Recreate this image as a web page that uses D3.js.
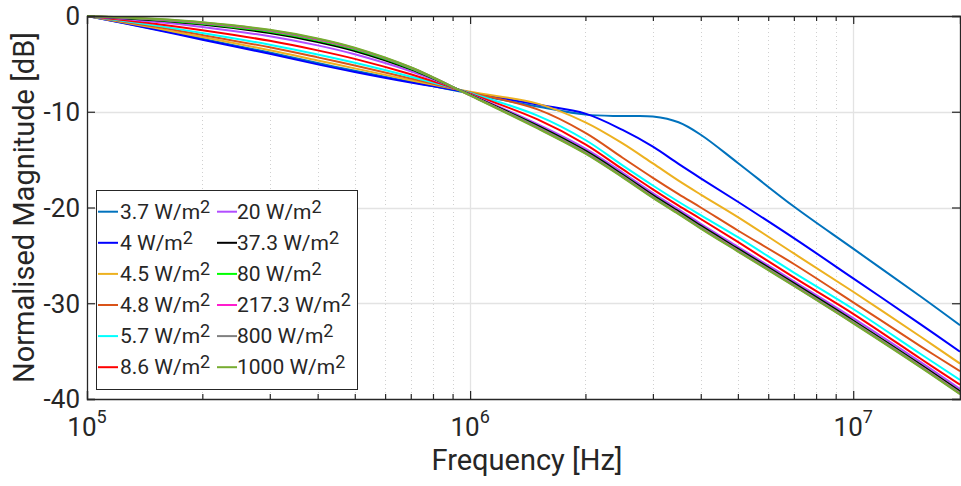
<!DOCTYPE html>
<html><head><meta charset="utf-8">
<script src="https://cdn.jsdelivr.net/npm/d3@7"></script>
<style>
body{margin:0;background:#fff}
svg{display:block}
text{font-family:Roboto,"Noto Sans",sans-serif;fill:#262626}
</style>
</head><body>
<svg id="chart" width="961" height="486"></svg>
<script>
// ---------- data ----------
const freqsHz = [1e5,1.5e5,2e5,3e5,4e5,5e5,7e5,1e6,1.5e6,2e6,2.5e6,3e6,3.5e6,4e6,5e6,7e6,1e7,1.5e7,1.9e7];
const irr3_7  = [0,-1.35,-2.38,-3.82,-4.91,-5.72,-6.87,-8.10,-9.45,-10.3,-10.45,-10.5,-11.1,-12.4,-15.35,-19.9,-24.3,-29.3,-32.3];
const irr4    = [0,-1.40,-2.47,-3.95,-5.05,-5.85,-6.95,-7.98,-9.25,-10.2,-11.9,-13.65,-15.45,-16.95,-19.4,-23.2,-27.4,-32.2,-35.06];
const irr4_5  = [0,-1.24,-2.20,-3.57,-4.64,-5.47,-6.71,-7.92,-9.15,-11.1,-13.3,-15.4,-17.2,-18.65,-21.0,-24.8,-28.8,-33.5,-36.3];
const irr4_8  = [0,-1.10,-1.98,-3.27,-4.32,-5.16,-6.52,-7.98,-9.75,-12.2,-14.8,-16.9,-18.6,-20.0,-22.4,-25.9,-29.9,-34.5,-37.1];
const irr5_7  = [0,-0.98,-1.78,-3.00,-4.02,-4.89,-6.34,-8.05,-10.4,-12.95,-15.6,-17.7,-19.4,-20.8,-23.1,-26.8,-30.6,-35.3,-38.0];
const irr8_6  = [0,-0.81,-1.49,-2.59,-3.59,-4.48,-6.09,-8.12,-10.8,-13.4,-16.0,-18.1,-19.8,-21.2,-23.6,-27.3,-31.1,-35.8,-38.5];
const irr20   = [0,-0.60,-1.14,-2.12,-3.07,-4.00,-5.78,-8.18,-11.3,-13.85,-16.35,-18.5,-20.2,-21.7,-24.1,-27.7,-31.55,-36.15,-38.95];
const irr37_3 = [0,-0.45,-0.90,-1.78,-2.71,-3.65,-5.57,-8.23,-11.45,-14.07,-16.55,-18.7,-20.4,-21.9,-24.3,-27.9,-31.8,-36.4,-39.2];
const irr80   = [0,-0.39,-0.80,-1.64,-2.56,-3.51,-5.48,-8.26,-11.59,-14.22,-16.7,-18.85,-20.55,-22.05,-24.45,-28.05,-31.95,-36.55,-39.35];
const irr217_3= [0,-0.34,-0.72,-1.54,-2.45,-3.41,-5.41,-8.28,-11.64,-14.27,-16.75,-18.9,-20.6,-22.1,-24.5,-28.1,-32.0,-36.6,-39.4];
const irr800  = [0,-0.32,-0.69,-1.49,-2.39,-3.36,-5.38,-8.29,-11.69,-14.32,-16.8,-18.95,-20.65,-22.15,-24.55,-28.15,-32.05,-36.65,-39.45];
const irr1000 = [0,-0.30,-0.65,-1.44,-2.34,-3.31,-5.35,-8.30,-11.74,-14.37,-16.85,-19.0,-20.7,-22.2,-24.6,-28.2,-32.1,-36.7,-39.5];

const seriesLabels = ["3.7","4","4.5","4.8","5.7","8.6","20","37.3","80","217.3","800","1000"];
const seriesValues = [irr3_7,irr4,irr4_5,irr4_8,irr5_7,irr8_6,irr20,irr37_3,irr80,irr217_3,irr800,irr1000];
const seriesColors = ["#0072BD","#0000FF","#EDB120","#D95319","#00FFFF","#FF0000","#B24DFF","#000000","#00FF00","#FF1DCE","#808080","#77AC30"];
const xMajorTicks = [1e5,1e6,1e7];
const xTickExponents = ["5","6","7"];
const yTicks = [0,-10,-20,-30,-40];
const xTitle = "Frequency [Hz]";
const yTitle = "Normalised Magnitude [dB]";

// ---------- layout ----------
const L=87, R=960, T=16, B=399;
const svg = d3.select("#chart");
const x = d3.scaleLog().domain([1e5,1.9e7]).range([L,R]);
const y = d3.scaleLinear().domain([-40,0]).range([B,T]);

const minorTicks = [];
for (let e=5;e<=7;e++) for (let m=2;m<=9;m++){ const v=m*Math.pow(10,e); if(v<1.9e7) minorTicks.push(v); }

// grid
const g = svg.append("g");
g.selectAll(".mg").data(minorTicks).join("line")
  .attr("x1",d=>Math.round(x(d))+0.5).attr("x2",d=>Math.round(x(d))+0.5)
  .attr("y1",T).attr("y2",B)
  .attr("stroke","#d0d0d0").attr("stroke-width",1).attr("stroke-dasharray","1,3");
g.selectAll(".Mg").data(xMajorTicks.slice(1)).join("line")
  .attr("x1",d=>Math.round(x(d))+0.5).attr("x2",d=>Math.round(x(d))+0.5)
  .attr("y1",T).attr("y2",B).attr("stroke","#e3e3e3").attr("stroke-width",1.3);
g.selectAll(".Yg").data(yTicks.slice(1,4)).join("line")
  .attr("y1",d=>Math.round(y(d))+0.5).attr("y2",d=>Math.round(y(d))+0.5)
  .attr("x1",L).attr("x2",R).attr("stroke","#e3e3e3").attr("stroke-width",1.3);

// curves
const line = d3.line().x(d=>x(d[0])).y(d=>y(d[1])).curve(d3.curveCatmullRom.alpha(0.5));
const plot = svg.append("g");
plot.append("clipPath").attr("id","clip").append("rect").attr("x",L).attr("y",T-2).attr("width",R-L).attr("height",B-T+4);
seriesValues.forEach((vals,i)=>{
  plot.append("path")
    .datum(freqsHz.map((f,j)=>[f,vals[j]]))
    .attr("d",line).attr("fill","none")
    .attr("stroke",seriesColors[i]).attr("stroke-width",2)
    .attr("clip-path","url(#clip)");
});

// axes box with ticks (d3 axes)
const axCol="#262626";
const bottomAx = d3.axisBottom(x).tickValues(xMajorTicks).tickSize(-8).tickFormat("");
const bottomMinor = d3.axisBottom(x).tickValues(minorTicks).tickSize(-5).tickFormat("");
const topAx = d3.axisTop(x).tickValues(xMajorTicks).tickSize(-8).tickFormat("");
const topMinor = d3.axisTop(x).tickValues(minorTicks).tickSize(-5).tickFormat("");
const leftAx = d3.axisLeft(y).tickValues(yTicks).tickSize(-8).tickFormat("");
const rightAx = d3.axisRight(y).tickValues(yTicks).tickSize(-8).tickFormat("");
function style(sel){ sel.selectAll("path,line").attr("stroke",axCol).attr("stroke-width",1.2); sel.select(".domain").attr("stroke-width",1.3); }
svg.append("g").attr("transform",`translate(0,${B})`).call(bottomMinor).call(style).select(".domain").remove();
svg.append("g").attr("transform",`translate(0,${B})`).call(bottomAx).call(style);
svg.append("g").attr("transform",`translate(0,${T})`).call(topMinor).call(style).select(".domain").remove();
svg.append("g").attr("transform",`translate(0,${T})`).call(topAx).call(style);
svg.append("g").attr("transform",`translate(${L},0)`).call(leftAx).call(style);
svg.append("g").attr("transform",`translate(${R},0)`).call(rightAx).call(style);

// tick labels
svg.selectAll(".yl").data(yTicks).join("text")
  .attr("x",L-7).attr("y",d=>y(d)).attr("dy","0.36em")
  .attr("text-anchor","end").attr("font-size",26).text(d=>String(d));
xMajorTicks.forEach((v,i)=>{
  const t = svg.append("text").attr("x",x(v)).attr("y",436).attr("text-anchor","middle").attr("font-size",26);
  t.append("tspan").text("10");
  t.append("tspan").attr("dy",-13).attr("font-size",18).text(xTickExponents[i]);
});

// axis titles
svg.append("text").attr("x",527).attr("y",470).attr("text-anchor","middle").attr("font-size",29).text(xTitle);
svg.append("text").attr("transform",`translate(34,${(T+B)/2}) rotate(-90)`).attr("text-anchor","middle").attr("font-size",29).text(yTitle);

// legend
const lg = svg.append("g");
lg.append("rect").attr("x",96.5).attr("y",190.5).attr("width",261).attr("height",199)
  .attr("fill","#fff").attr("stroke",axCol).attr("stroke-width",1);
seriesLabels.forEach((lab,i)=>{
  const col = Math.floor(i/6), row = i%6;
  const lx = col===0?98:217, tx = col===0?120:237;
  const cy = 211.7 + row*31.1;
  lg.append("line").attr("x1",lx).attr("x2",lx+20).attr("y1",cy).attr("y2",cy)
    .attr("stroke",seriesColors[i]).attr("stroke-width",2);
  const t = lg.append("text").attr("x",tx).attr("y",cy+7).attr("font-size",21);
  t.append("tspan").text(lab+" W/m");
  t.append("tspan").attr("dy",-6).attr("font-size",18).text("2");
});
</script>
</body></html>
